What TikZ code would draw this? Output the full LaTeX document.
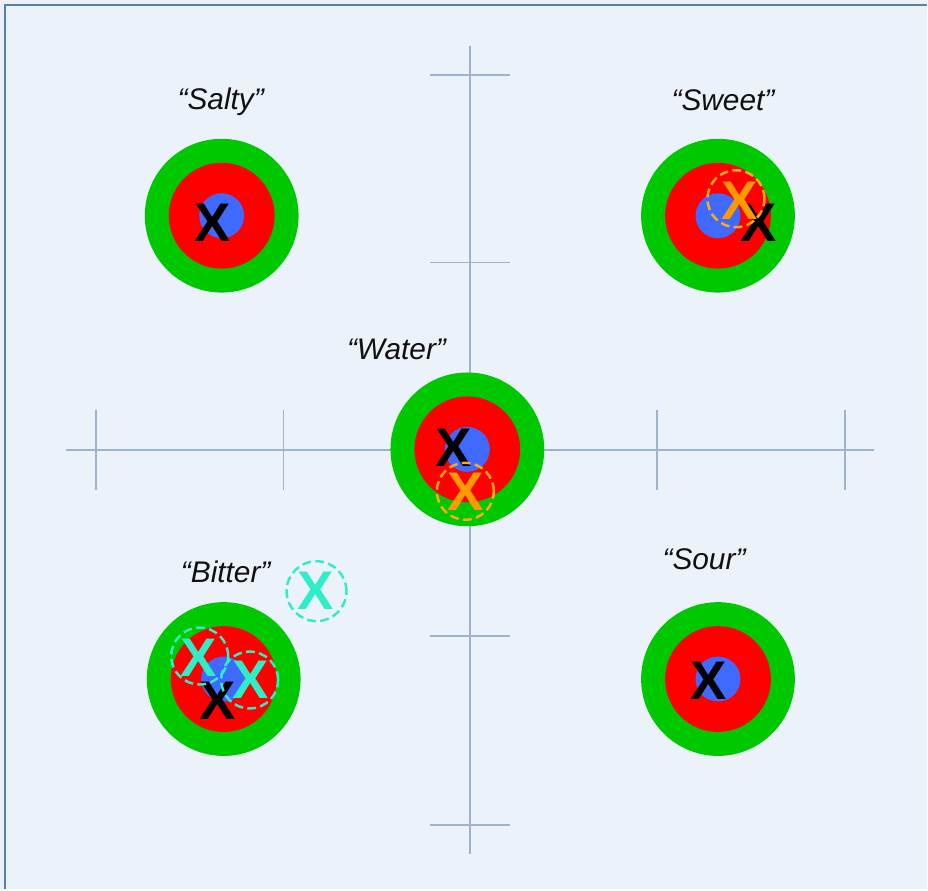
\documentclass[tikz,border=0pt]{standalone}
\usepackage{fontspec}
\setmainfont{Liberation Sans}
\usepackage{xcolor}
\definecolor{tsPaper}{HTML}{ECF2F9}
\definecolor{tsFrame}{HTML}{5A7FA8}
\definecolor{tsAxis}{HTML}{9DB4CC}
\definecolor{tsInk}{HTML}{111111}
\definecolor{tsGreen}{HTML}{00C800}
\definecolor{tsRed}{HTML}{FF0000}
\definecolor{tsBlue}{HTML}{4069FF}
\definecolor{tsOrange}{HTML}{FF9A00}
\definecolor{tsGold}{HTML}{FFAA10}
\definecolor{tsCyan}{HTML}{2EEEC8}
\tikzset{
  outer/.style={circle, fill=tsGreen, minimum size=3.08cm, inner sep=0pt},
  mid/.style={circle, fill=tsRed, minimum size=2.12cm, inner sep=0pt},
  core/.style={circle, fill=tsBlue, minimum size=0.9cm, inner sep=0pt},
  taste/.style={font=\fontsize{17}{20}\selectfont\itshape, text=tsInk, anchor=base, inner sep=0pt},
  xmk/.style={font=\fontsize{31}{31}\selectfont\bfseries, inner sep=0pt},
  xblk/.style={xmk, text=black},
  xorg/.style={xmk, text=tsOrange},
  xcyn/.style={xmk, text=tsCyan},
  ringO/.style={circle, draw=tsGold, dash pattern=on 5pt off 2.5pt, line width=1.4pt, minimum size=1.14cm, inner sep=0pt},
  ringC/.style={ringO, draw=tsCyan},
  axis/.style={draw=tsAxis, line width=1pt},
  tick/.style={draw=tsAxis, line width=0.8pt},
}

\begin{document}
\begin{tikzpicture}[x=0.02cm, y=-0.02cm]
  \fill[tsPaper] (0,0) rectangle (928,890);
  \draw[tsFrame, line width=1.5pt] (5,890) -- (5,5) -- (928,5);

  \coordinate (xl) at (66,451); \coordinate (xr) at (875,451);
  \coordinate (yt) at (471,46); \coordinate (yb) at (471,855);
  \draw[axis] (xl) -- (xr); \draw[axis] (yt) -- (yb);
  \foreach \x in {96,284,658,846} \draw[tick] (\x,411) -- (\x,491);
  \foreach \y in {75,263,637,826} \draw[tick] (431,\y) -- (511,\y);

  \foreach \n/\x/\y in {salty/222/216, sweet/719/216, water/468/450, bitter/224/680, sour/719/680} {
    \node[outer] (\n) at (\x,\y) {};
    \node[mid] (\n-r) at (\n) {};
    \node[core] (\n-c) at (\n) {};
  }

  \node[taste] (saltyL) at (221,110) {“Salty”};
  \node[taste] (sweetL) at (724,111) {“Sweet”};
  \node[taste] (waterL) at (397,360) {“Water”};
  \node[taste] (bitterL) at (226,583) {“Bitter”};
  \node[taste] (sourL) at (705,570) {“Sour”};

  \node[xblk] (saltyX) at (213,223) {X};

  \node[xblk] (sweetX) at (760,223) {X};
  \node[ringO] (sweetO) at (737,199) {};
  \node[xorg] (sweetOX) at (741,201) {X};

  \node[xblk] (waterX) at (454,448) {X};
  \node[ringO] (waterO) at (466,492) {};
  \node[xorg] (waterOX) at (466,492) {X};

  \node[xblk] (bitterX) at (218,702) {X};
  \node[ringC] (bitterC1) at (200,657) {};
  \node[xcyn] (bitterCX1) at (199,659) {X};
  \node[ringC] (bitterC2) at (250,681) {};
  \node[xcyn] (bitterCX2) at (251,681) {X};
  \node[ringC, minimum size=1.2cm] (looseC) at (317,592) {};
  \node[xcyn] (looseCX) at (316,592) {X};

  \node[xblk] (sourX) at (710,682) {X};
\end{tikzpicture}
\end{document}
